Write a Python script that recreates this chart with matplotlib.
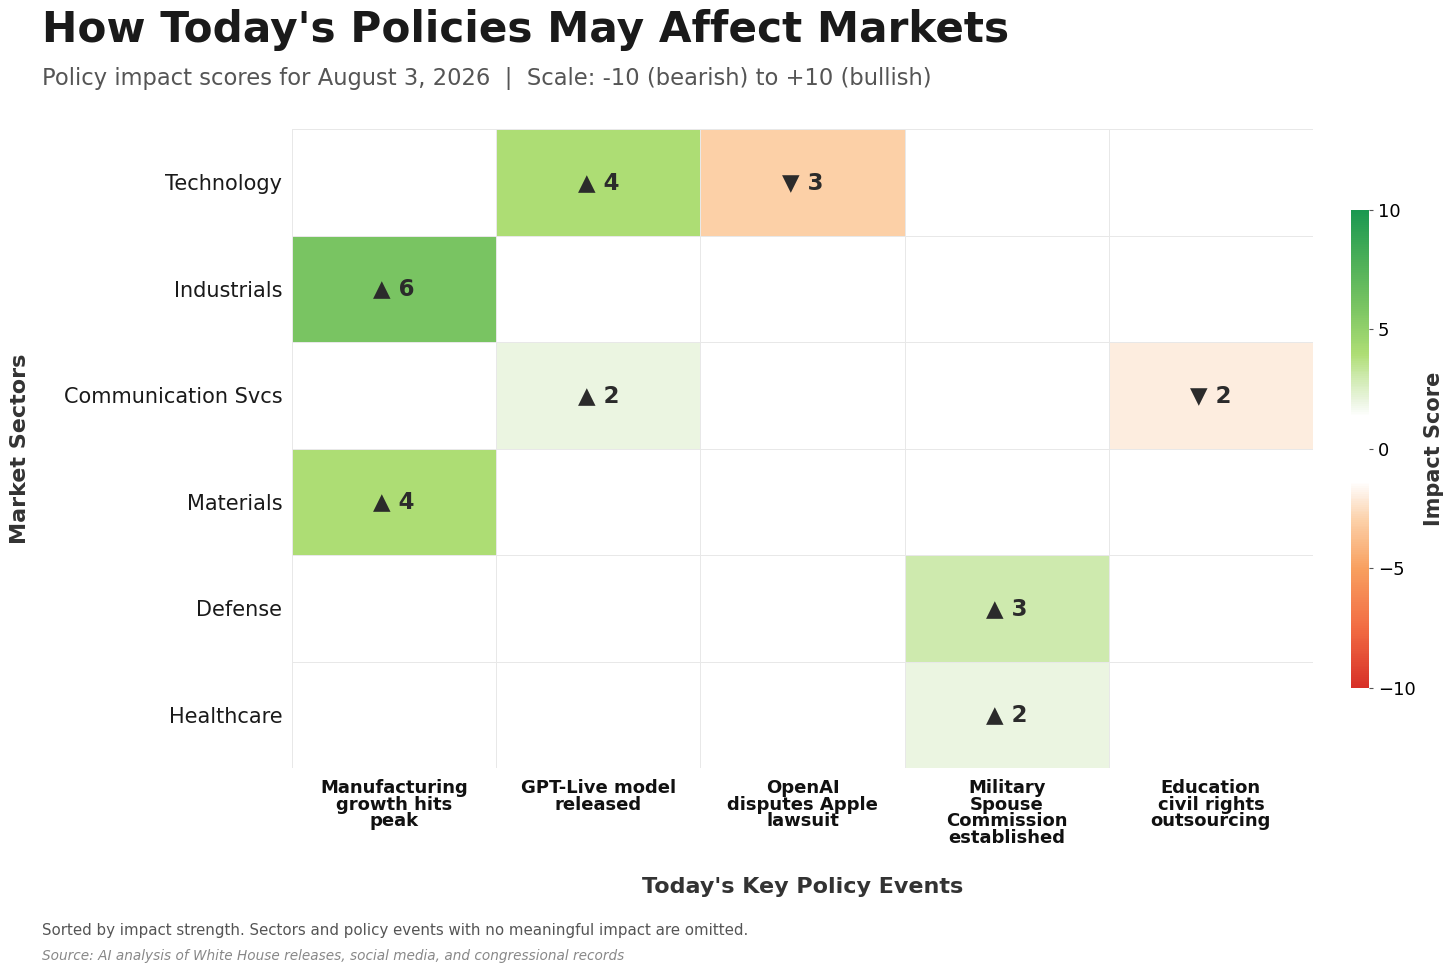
import numpy as np
import matplotlib
matplotlib.use("Agg")
import matplotlib.pyplot as plt
from matplotlib.colors import LinearSegmentedColormap, Normalize

sectors = ["Technology", "Industrials", "Communication Svcs", "Materials", "Defense", "Healthcare"]
events = ["Manufacturing\ngrowth hits\npeak", "GPT-Live model\nreleased", "OpenAI\ndisputes Apple\nlawsuit",
          "Military\nSpouse\nCommission\nestablished", "Education\ncivil rights\noutsourcing"]
technology = [0, 4, -3, 0, 0]
industrials = [6, 0, 0, 0, 0]
communication = [0, 2, 0, 0, -2]
materials = [4, 0, 0, 0, 0]
defense = [0, 0, 0, 3, 0]
healthcare = [0, 0, 0, 2, 0]
cbar_ticks = [-10, -5, 0, 5, 10]

values = np.array([technology, industrials, communication, materials, defense, healthcare], dtype=float)

nodes = [
    (-10, "#d73027"), (-7.5, "#f26c43"), (-5, "#f8a060"), (-3, "#fcd0a8"), (-2, "#fdeddf"),
    (-1.4, "#ffffff"), (1.4, "#ffffff"), (2, "#ebf5e1"), (3, "#cfeaaf"), (4, "#aedd74"),
    (6, "#79c462"), (8, "#4aae58"), (10, "#1a9850"),
]
cmap = LinearSegmentedColormap.from_list("impact", [((v + 10) / 20, c) for v, c in nodes])
norm = Normalize(-10, 10)

fig = plt.figure(figsize=(14.56, 9.75), dpi=100)
ax = fig.add_axes([292 / 1456, 1 - 768 / 975, 1021 / 1456, 639 / 975])
mesh = ax.pcolormesh(np.arange(len(events) + 1), np.arange(len(sectors) + 1), values,
                     cmap=cmap, norm=norm, edgecolor="#e8e8e8", linewidth=0.5)
ax.set_xlim(0, len(events))
ax.set_ylim(len(sectors), 0)
for s in ax.spines.values():
    s.set_visible(False)
ax.tick_params(length=0)
ax.set_xticks(np.arange(len(events)) + 0.5)
ax.set_xticklabels(events, fontsize=13, fontweight="bold", linespacing=0.9, color="#111111")
ax.set_yticks(np.arange(len(sectors)) + 0.5)
ax.set_yticklabels(sectors, fontsize=15, color="#1a1a1a")
ax.tick_params(axis="y", pad=7)
ax.tick_params(axis="x", pad=8)

for i in range(len(sectors)):
    for j in range(len(events)):
        v = values[i, j]
        if v != 0:
            sym = "\u25B2" if v > 0 else "\u25BC"
            ax.text(j + 0.5, i + 0.5, f"{sym} {abs(int(v))}", ha="center", va="center",
                    fontsize=16.5, fontweight="bold", color="#2b2b2b")

ax.set_xlabel("Today's Key Policy Events", fontsize=16, fontweight="bold", color="#333333", labelpad=22)
fig.text(20 / 1456, 1 - 449 / 975, "Market Sectors", rotation=90, fontsize=16, fontweight="bold",
         color="#333333", ha="center", va="center")

cax = fig.add_axes([1351 / 1456, 1 - 688 / 975, 18 / 1456, 478 / 975])
cb = fig.colorbar(mesh, cax=cax, ticks=cbar_ticks)
cb.outline.set_visible(False)
cb.ax.tick_params(labelsize=13, length=3, color="#555555", width=0.8)
cb.set_label("Impact Score", fontsize=15, fontweight="bold", color="#333333", labelpad=6)

fig.text(42 / 1456, 1 - 30 / 975, "How Today's Policies May Affect Markets", fontsize=30.4,
         fontweight="bold", color="#1a1a1a", ha="left", va="center")
fig.text(42 / 1456, 1 - 79 / 975,
         "Policy impact scores for August 3, 2026  |  Scale: -10 (bearish) to +10 (bullish)",
         fontsize=16.3, color="#555555", ha="left", va="center")
fig.text(42 / 1456, 1 - 931 / 975,
         "Sorted by impact strength. Sectors and policy events with no meaningful impact are omitted.",
         fontsize=10.8, color="#555555", ha="left", va="center")
fig.text(42 / 1456, 1 - 956 / 975,
         "Source: AI analysis of White House releases, social media, and congressional records",
         fontsize=9.8, style="italic", color="#888888", ha="left", va="center")

fig.savefig("out.png", dpi=100, facecolor="white")
